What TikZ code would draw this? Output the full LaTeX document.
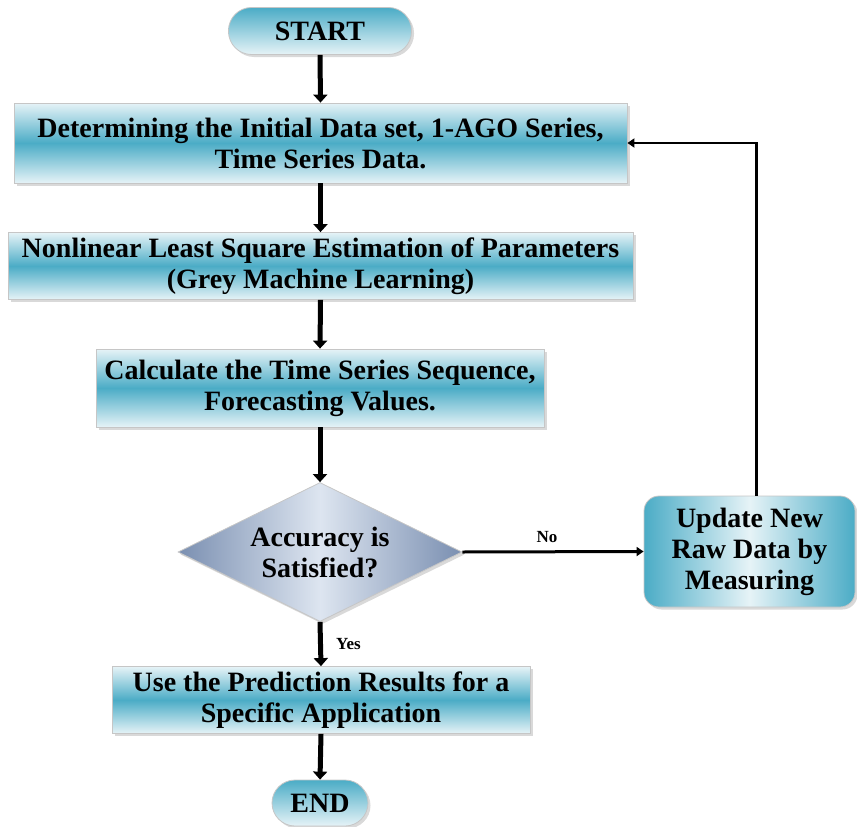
\documentclass[tikz,border=0pt]{standalone}
\usepackage{fontspec}
\setmainfont{Liberation Serif}
\usetikzlibrary{shapes.geometric,shadows,arrows.meta}

\definecolor{aquadark}{HTML}{4BACC6}
\definecolor{aqualight}{HTML}{E6F3F7}
\definecolor{slatedark}{HTML}{7A8FB1}
\definecolor{slatelight}{HTML}{DDE5F0}

\tikzset{
  boxtext/.style={font=\bfseries\fontsize{28}{31}\selectfont, align=center, inner sep=0pt},
  boxbase/.style={boxtext, draw=gray!45, line width=0.8pt,
    drop shadow={shadow xshift=2.5pt, shadow yshift=-2.5pt, opacity=0.3}},
  process/.style={boxbase, rectangle, top color=aqualight, bottom color=aqualight, middle color=aquadark},
  terminal/.style={boxbase, rectangle, rounded corners=23pt, top color=aquadark, bottom color=aqualight},
  decision/.style={boxbase, diamond, aspect=2, left color=slatedark, right color=slatedark, middle color=slatelight},
  update/.style={boxbase, rectangle, rounded corners=15pt, left color=aquadark, right color=aquadark, middle color=aqualight},
  labeltext/.style={font=\bfseries\fontsize{17}{19}\selectfont, inner sep=0pt},
  flowarrow/.style={line width=5pt, -{Triangle[length=8pt,width=14pt]}},
  thinarrow/.style={line width=2.5pt, -{Triangle[length=7pt,width=9pt]}}
}

\begin{document}
\begin{tikzpicture}[x=1pt, y=-1pt]
    \useasboundingbox (0,0) rectangle (857,827);
    % boxes
    \node[terminal, minimum width=183pt, minimum height=47pt] (start) at (320,31) {START};
    \node[process, minimum width=613pt, minimum height=80pt] (det) at (320.5,143) {Determining the Initial Data set, 1-AGO Series,\\Time Series Data.};
    \node[process, minimum width=625pt, minimum height=67pt] (nls) at (320.5,266) {Nonlinear Least Square Estimation of Parameters\\(Grey Machine Learning)};
    \node[process, minimum width=448pt, minimum height=78pt] (calc) at (320,388) {Calculate the Time Series Sequence,\\Forecasting Values.};
    \node[decision, minimum width=284pt, minimum height=139pt] (acc) at (320,552) {Accuracy is\\Satisfied?};
    \node[update, minimum width=211pt, minimum height=111pt] (upd) at (749.5,551.5) {Update New\\Raw Data by\\Measuring};
    \node[process, minimum width=418pt, minimum height=67pt] (use) at (321,700) {Use the Prediction Results for a\\Specific Application};
    \node[terminal, minimum width=96pt, minimum height=46pt] (end) at (320,803) {END};
    % connectors
    \draw[flowarrow] (start.south) -- (det.north);
    \draw[flowarrow] (det.south) -- (nls.north);
    \draw[flowarrow] (nls.south) -- (calc.north);
    \draw[flowarrow] (calc.south) -- (acc.north);
    \draw[flowarrow] (acc.south) -- (use.north);
    \draw[flowarrow] (use.south) -- (end.north);
    \draw[thinarrow, line width=3pt] (acc.east) -- (upd.west);
    \draw[thinarrow] ([xshift=7pt]upd.north) |- (det.east);
    \node[labeltext] (no) at (547,537) {No};
    \node[labeltext, anchor=west] (yes) at (336,644) {Yes};
\end{tikzpicture}
\end{document}
